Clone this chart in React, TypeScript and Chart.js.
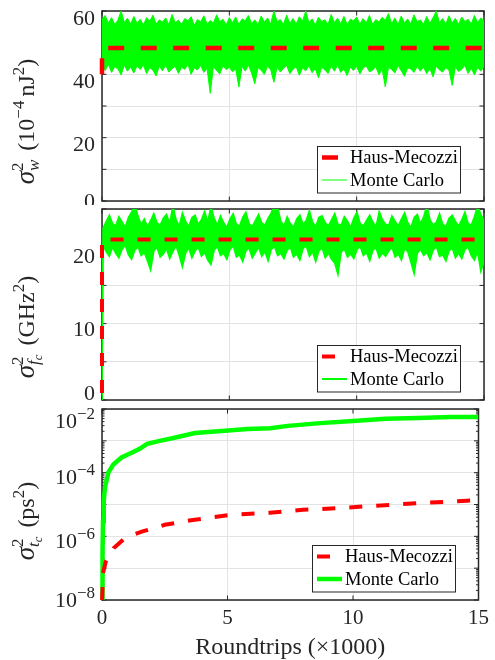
import React, { useEffect, useRef } from 'react';
import { Chart, registerables } from 'chart.js';

Chart.register(...registerables);

const FONT = "'Liberation Serif', 'Times New Roman', serif";
Chart.defaults.font.family = FONT;

// ---------------- data ----------------
const X_MIN = 0;
const X_MAX = 15;
const X_STEP = 5;
const X_TITLE = 'Roundtrips (×1000)';
const LABEL_HM = 'Haus-Mecozzi';
const LABEL_MC = 'Monte Carlo';

// uniform sampling instants (roundtrips ×1000) for the densely sampled Monte Carlo traces
const sampleTimes = (n: number, from: number, to: number) =>
  Array.from({ length: n }, (_, i) => from + ((to - from) * i) / (n - 1));

// Panel 1: energy variance (10^-4 nJ^2)
const P1_Y_MIN = 0;
const P1_Y_MAX = 60;
const P1_Y_GRID_STEP = 10;
const P1_Y_TICKS = [0, 20, 40, 60];
const P1_HM_T = [0, 0, 15];
const P1_HM_V = [40, 48.3, 48.3];
const P1_MC_T = sampleTimes(121, 0, 15);
const P1_MC_UPPER = [
  57.5, 58.6, 56.2, 57.9, 55.8, 57.1, 60.0, 56.4, 57.7, 55.9,
  58.3, 56.1, 57.4, 55.6, 57.9, 56.8, 58.7, 55.9, 57.2, 56.5,
  57.8, 55.7, 58.9, 56.3, 57.1, 55.8, 57.6, 56.9, 58.2, 55.5,
  57.3, 56.6, 58.5, 55.9, 57.0, 56.2, 58.8, 56.7, 57.4, 55.6,
  57.9, 56.3, 58.1, 55.8, 57.5, 56.9, 58.6, 56.0, 57.2, 55.7,
  58.4, 56.5, 57.8, 55.9, 60.0, 56.6, 57.3, 55.8, 58.7, 56.1,
  57.6, 55.9, 58.2, 56.8, 60.0, 56.3, 57.5, 55.6, 58.0, 56.7,
  57.2, 55.8, 58.9, 56.4, 57.7, 56.0, 58.3, 55.7, 57.4, 56.9,
  58.1, 55.9, 57.6, 56.2, 58.6, 55.8, 57.3, 56.5, 58.0, 57.1,
  59.2, 56.0, 57.8, 55.7, 58.4, 56.3, 57.5, 55.9, 58.8, 56.6,
  57.2, 55.8, 58.3, 56.1, 57.9, 60.0, 56.4, 57.6, 55.9, 58.5,
  56.2, 57.7, 55.8, 58.1, 56.7, 57.4, 55.9, 58.6, 56.3, 57.8, 57.0,
];
const P1_MC_LOWER = [
  42.8, 41.2, 43.1, 40.6, 42.4, 41.7, 39.8, 42.9, 41.0, 42.3,
  40.4, 42.7, 41.5, 43.0, 40.2, 42.1, 41.3, 39.5, 42.6, 41.1,
  42.9, 40.7, 41.8, 42.5, 40.3, 42.2, 41.6, 43.1, 40.0, 42.0,
  41.4, 42.8, 40.6, 41.9, 34.0, 42.4, 41.2, 40.1, 42.7, 41.5,
  42.2, 40.8, 41.7, 36.0, 42.5, 41.0, 42.9, 40.4, 37.0, 42.1,
  41.3, 40.0, 42.6, 41.4, 37.5, 42.3, 40.7, 41.9, 42.8, 40.2,
  41.6, 42.4, 39.7, 42.0, 41.1, 42.7, 40.5, 41.8, 38.9, 42.2,
  41.4, 40.3, 42.6, 41.0, 42.9, 40.6, 41.7, 39.6, 42.3, 41.2,
  42.5, 40.1, 41.9, 42.7, 40.8, 41.3, 42.4, 39.9, 41.6, 36.0,
  42.2, 41.5, 40.4, 42.8, 41.1, 39.4, 42.0, 41.7, 40.6, 42.5,
  41.0, 42.3, 40.2, 41.8, 39.2, 42.6, 41.4, 40.7, 42.1, 41.3,
  36.5, 42.4, 40.9, 41.6, 42.8, 40.3, 41.9, 39.8, 42.2, 41.0, 42.5,
];

// Panel 2: centre-frequency variance (GHz^2)
const P2_Y_MIN = 0;
const P2_Y_MAX = 25;
const P2_Y_GRID_STEP = 5;
const P2_Y_TICKS = [0, 10, 20];
const P2_HM_T = [0, 0, 15];
const P2_HM_V = [0, 21, 21];
const P2_MC_T = [0, ...sampleTimes(121, 0.04, 15)];
const P2_MC_UPPER = [
  0,
  22.5, 23.4, 24.2, 23.1, 22.8, 24.0, 23.3, 22.6, 23.9, 24.6,
  25.6, 24.1, 23.0, 23.7, 22.7, 23.5, 24.4, 23.2, 22.9, 23.8,
  24.3, 23.1, 25.5, 23.6, 22.8, 24.5, 23.4, 22.7, 23.9, 24.2,
  23.0, 23.6, 24.7, 23.3, 25.4, 23.8, 22.9, 24.1, 23.2, 22.6,
  23.7, 24.4, 23.0, 22.8, 23.9, 24.6, 23.1, 22.7, 23.5, 24.3,
  23.2, 22.9, 23.8, 24.5, 25.6, 25.3, 23.4, 22.8, 24.0, 23.1,
  22.6, 23.7, 24.2, 23.0, 23.5, 24.8, 23.3, 22.7, 23.9, 24.1,
  23.2, 22.8, 23.6, 24.4, 23.0, 22.9, 24.0, 23.4, 22.6, 23.8,
  24.6, 23.1, 22.8, 23.5, 24.2, 23.3, 22.7, 24.7, 23.6, 23.0,
  22.9, 24.1, 23.4, 22.8, 23.7, 24.5, 23.2, 22.6, 23.9, 24.3,
  23.1, 24.0, 25.5, 23.6, 22.9, 23.3, 24.4, 23.0, 22.7, 23.8,
  24.2, 23.4, 22.8, 23.6, 24.6, 23.1, 22.9, 24.0, 25.5, 24.3, 23.5,
];
const P2_MC_LOWER = [
  0,
  20.2, 19.4, 18.8, 20.0, 19.2, 18.6, 19.7, 20.3, 19.0, 18.4,
  19.6, 20.1, 18.9, 19.3, 18.2, 17.0, 19.5, 20.0, 18.7, 19.1,
  19.8, 18.5, 19.4, 20.2, 18.9, 17.4, 19.2, 19.9, 18.6, 19.5,
  20.0, 18.8, 19.3, 18.3, 17.7, 19.6, 20.1, 18.9, 19.2, 18.4,
  19.7, 20.2, 18.7, 19.0, 18.1, 19.5, 19.9, 18.6, 19.3, 20.0,
  18.8, 19.4, 18.2, 19.7, 20.1, 18.9, 19.2, 18.5, 19.6, 20.0,
  18.7, 19.1, 18.3, 19.8, 20.2, 18.8, 19.4, 18.1, 19.5, 19.9,
  18.6, 19.2, 18.4, 17.9, 16.4, 19.3, 19.8, 18.7, 19.1, 18.5,
  19.7, 20.1, 18.9, 19.3, 18.2, 19.6, 19.9, 18.6, 19.2, 18.8,
  19.5, 20.0, 18.7, 19.1, 18.3, 19.8, 19.4, 18.0, 16.5, 19.2,
  19.7, 18.9, 19.3, 18.4, 19.6, 20.1, 18.8, 19.0, 18.2, 19.5,
  19.9, 18.6, 19.2, 18.5, 19.7, 20.0, 18.9, 18.3, 19.4, 16.8, 18.1,
];

// Panel 3: timing variance (ps^2), log axis
const P3_Y_MIN = 1e-8;
const P3_Y_MAX = 1e-2;
const P3_Y_GRID_EXP = [-8, -7, -6, -5, -4, -3, -2];
const P3_Y_LABEL_EXP = [-8, -6, -4, -2];
const P3_HM_T = [0, 0.01, 0.04, 0.15, 0.47, 0.93, 1.58, 2.5, 3.55, 5.12, 6.69, 8.0, 9.3, 11.27, 12.58, 14.54, 15];
const P3_HM_V = [1e-8, 1.3e-8, 7e-8, 1.6e-7, 4.3e-7, 9e-7, 1.4e-6, 2.3e-6, 3.2e-6, 4.7e-6, 5.5e-6, 6.8e-6, 7.6e-6, 9.5e-6, 1.1e-5, 1.32e-5, 1.36e-5];
const P3_MC_T = [0, 0.02, 0.04, 0.07, 0.12, 0.25, 0.45, 0.78, 1.2, 1.5, 1.8, 2.3, 2.8, 3.7, 4.5, 5.8, 6.7, 7.4, 8.7, 10.0, 11.3, 12.6, 13.9, 15];
const P3_MC_V = [1e-8, 3e-7, 3e-6, 1.3e-5, 3.5e-5, 1e-4, 1.8e-4, 3e-4, 4.3e-4, 5.6e-4, 8e-4, 1e-3, 1.2e-3, 1.75e-3, 1.95e-3, 2.35e-3, 2.5e-3, 2.95e-3, 3.6e-3, 4.2e-3, 4.9e-3, 5.25e-3, 5.6e-3, 5.65e-3];

// ---------------- style ----------------
const RED = '#ff0000';
const GREEN = '#00ff00';
const INK = '#262626';
const GRID = '#e3e3e3';
const W = 495;
const AXIS_LEFT = 102;
const PAD_RIGHT = W - 484;
const YTICK_SIZE = 22;

type Run = { t: string; size: number; italic?: boolean; rise?: number };
type Seg = Run | { gap: number } | { sup: Run[]; sub: Run[] };

const setFont = (ctx: CanvasRenderingContext2D, r: Run) => {
  ctx.font = `${r.italic ? 'italic ' : ''}${r.size}px ${FONT}`;
};
const runsWidth = (ctx: CanvasRenderingContext2D, runs: Run[]) =>
  runs.reduce((w, r) => {
    setFont(ctx, r);
    return w + ctx.measureText(r.t).width;
  }, 0);
const segWidth = (ctx: CanvasRenderingContext2D, s: Seg): number => {
  if ('gap' in s) return s.gap;
  if ('sup' in s) return Math.max(runsWidth(ctx, s.sup), runsWidth(ctx, s.sub));
  return runsWidth(ctx, [s]);
};
const drawRuns = (ctx: CanvasRenderingContext2D, runs: Run[], x: number, y: number) => {
  for (const r of runs) {
    setFont(ctx, r);
    ctx.fillText(r.t, x, y - (r.rise || 0));
    x += ctx.measureText(r.t).width;
  }
  return x;
};
const drawSegs = (ctx: CanvasRenderingContext2D, segs: Seg[], x: number, y: number) => {
  for (const s of segs) {
    if ('gap' in s) x += s.gap;
    else if ('sup' in s) {
      drawRuns(ctx, s.sup, x, y);
      drawRuns(ctx, s.sub, x, y);
      x += segWidth(ctx, s);
    } else x = drawRuns(ctx, [s], x, y);
  }
  return x;
};

// frame + inward tick marks (MATLAB box style)
const framePlugin = {
  id: 'frame',
  beforeDatasetsDraw(chart: any, _a: any, o: any) {
    const { ctx, chartArea: a, scales } = chart;
    const { x, y } = scales;
    ctx.save();
    ctx.strokeStyle = INK;
    ctx.lineWidth = 1;
    ctx.beginPath();
    for (const t of y.ticks) {
      const py = y.getPixelForValue(t.value);
      ctx.moveTo(a.left, py); ctx.lineTo(a.left + 4.5, py);
      ctx.moveTo(a.right, py); ctx.lineTo(a.right - 4.5, py);
    }
    for (const v of o.minorY || []) {
      const py = y.getPixelForValue(v);
      ctx.moveTo(a.left, py); ctx.lineTo(a.left + 2.5, py);
      ctx.moveTo(a.right, py); ctx.lineTo(a.right - 2.5, py);
    }
    for (const t of x.ticks) {
      const px = x.getPixelForValue(t.value);
      ctx.moveTo(px, a.bottom); ctx.lineTo(px, a.bottom - 4.5);
      ctx.moveTo(px, a.top); ctx.lineTo(px, a.top + 4.5);
    }
    ctx.stroke();
    ctx.lineWidth = 1.5;
    ctx.strokeRect(a.left, a.top, a.right - a.left, a.bottom - a.top);
    ctx.restore();
  },
};

// y tick labels (with optional exponent) and rich y title
const yTextPlugin = {
  id: 'yText',
  afterDraw(chart: any, _a: any, o: any) {
    const { ctx, chartArea: a, scales } = chart;
    const y = scales.y;
    ctx.save();
    ctx.fillStyle = INK;
    ctx.textAlign = 'left';
    ctx.textBaseline = 'alphabetic';
    const xr = a.left - 7;
    const size = YTICK_SIZE;
    o.labels.forEach((it: any, i: number) => {
      const cy = y.getPixelForValue(it.value) + (o.dy[i] || 0);
      const base = cy + 0.34 * size;
      let x = xr;
      if (it.exp) {
        ctx.font = `17px ${FONT}`;
        const ew = ctx.measureText(it.exp).width;
        x -= ew;
        ctx.fillText(it.exp, x, base - 9);
      }
      ctx.font = `${size}px ${FONT}`;
      const bw = ctx.measureText(it.text).width;
      ctx.fillText(it.text, x - bw, base);
    });
    // rotated rich title
    const t = o.title;
    const total = t.segs.reduce((w: number, s: Seg) => w + segWidth(ctx, s), 0);
    ctx.translate(t.x, t.y);
    ctx.rotate(-Math.PI / 2);
    drawSegs(ctx, t.segs, -total / 2, 0);
    ctx.restore();
  },
};

// boxed legend in lower-right corner, built from datasets
const legendPlugin = {
  id: 'boxLegend',
  afterDraw(chart: any, _a: any, o: any) {
    const { ctx, chartArea: a } = chart;
    const w = 143, h = 46.5;
    const x0 = Math.round(a.right - 24 - w) + 0.5;
    const y0 = Math.round(a.bottom - 8.5 - h) + 0.5;
    ctx.save();
    ctx.fillStyle = '#ffffff';
    ctx.fillRect(x0, y0, w, h);
    ctx.strokeStyle = INK;
    ctx.lineWidth = 1;
    ctx.strokeRect(x0, y0, w, h);
    o.datasets.forEach((di: number, i: number) => {
      const ds = chart.data.datasets[di];
      const yy = y0 + 11 + i * 22.5;
      ctx.beginPath();
      ctx.setLineDash(ds.borderDash || []);
      ctx.lineWidth = o.widths[i];
      ctx.strokeStyle = ds.borderColor;
      ctx.moveTo(x0 + 4.5, yy);
      ctx.lineTo(x0 + 29.5, yy);
      ctx.stroke();
      ctx.setLineDash([]);
      ctx.fillStyle = '#000';
      ctx.font = `18.5px ${FONT}`;
      ctx.textBaseline = 'middle';
      ctx.fillText(ds.label, x0 + 32.5, yy + 1);
    });
    ctx.restore();
  },
};

const pts = (xs: number[], ys: number[]) => xs.map((x, i) => ({ x, y: ys[i] }));

const sigmaTitle = (sub: Run[], unit: Seg[]): Seg[] => [
  { t: 'σ', size: 27, italic: true },
  { sup: [{ t: '2', size: 17, rise: 11 }], sub },
  { gap: 9 },
  ...unit,
];

function buildConfig(p: any): any {
  return {
    type: 'line',
    data: { datasets: p.datasets },
    plugins: [framePlugin, yTextPlugin, legendPlugin],
    options: {
      responsive: false,
      animation: false,
      devicePixelRatio: 1,
      events: [],
      layout: { padding: { top: p.padTop, right: PAD_RIGHT, bottom: 0, left: 0 } },
      elements: { point: { radius: 0 }, line: { tension: 0 } },
      plugins: {
        legend: { display: false },
        tooltip: { enabled: false },
        frame: { minorY: p.minorY || [] },
        yText: { labels: p.yLabels, dy: p.yDy, title: p.title },
        boxLegend: { datasets: [0, 1], widths: p.legendWidths },
      },
      scales: {
        x: {
          type: 'linear',
          min: X_MIN,
          max: X_MAX,
          ticks: {
            display: p.showX,
            stepSize: X_STEP,
            autoSkip: false,
            maxRotation: 0,
            color: INK,
            font: { size: 21 },
            padding: 6,
          },
          grid: { color: GRID, drawTicks: false },
          border: { display: false },
          title: {
            display: p.showX,
            text: X_TITLE,
            color: INK,
            font: { size: 24, lineHeight: 1 },
            padding: { top: 0, bottom: 0 },
          },
          afterFit: (s: any) => { s.height = p.xHeight; },
        },
        y: p.y,
      },
    },
  };
}

const linearY = (min: number, max: number, step: number) => ({
  type: 'linear',
  min,
  max,
  ticks: { display: false, stepSize: step },
  grid: { color: GRID, drawTicks: false },
  border: { display: false },
  afterFit: (s: any) => { s.width = AXIS_LEFT; },
});

const minorLog: number[] = [];
P3_Y_GRID_EXP.slice(0, -1).forEach((e) => {
  for (let k = 2; k <= 9; k++) minorLog.push(k * Math.pow(10, e));
});

const config1 = () =>
  buildConfig({
    padTop: 11,
    xHeight: 4,
    showX: false,
    y: linearY(P1_Y_MIN, P1_Y_MAX, P1_Y_GRID_STEP),
    yLabels: P1_Y_TICKS.map((v) => ({ value: v, text: String(v) })),
    yDy: [0, 6, 6, 7],
    title: {
      x: 34,
      y: 121.5,
      segs: sigmaTitle([{ t: 'w', size: 17, italic: true, rise: -5 }], [
        { t: '(10', size: 24 },
        { t: '−4', size: 17, rise: 10 },
        { gap: 4 },
        { t: 'nJ', size: 24 },
        { t: '2', size: 17, rise: 10 },
        { t: ')', size: 24 },
      ]),
    },
    legendWidths: [4.5, 1],
    datasets: [
      {
        label: LABEL_HM, data: pts(P1_HM_T, P1_HM_V), borderColor: RED, borderWidth: 4.5,
        borderDash: [16, 16.5], fill: false, clip: { left: 4, top: 0, right: 0, bottom: 0 },
      },
      {
        label: LABEL_MC, data: pts(P1_MC_T, P1_MC_UPPER), borderColor: GREEN, backgroundColor: GREEN,
        borderWidth: 1, fill: '+1', clip: 0,
      },
      {
        label: LABEL_MC, data: pts(P1_MC_T, P1_MC_LOWER), borderColor: GREEN, borderWidth: 1, fill: false, clip: 0,
      },
    ],
  });

const config2 = () =>
  buildConfig({
    padTop: 4,
    xHeight: 4,
    showX: false,
    y: linearY(P2_Y_MIN, P2_Y_MAX, P2_Y_GRID_STEP),
    yLabels: P2_Y_TICKS.map((v) => ({ value: v, text: String(v) })),
    yDy: [-7, 5, 8],
    title: {
      x: 34,
      y: 122,
      segs: sigmaTitle(
        [
          { t: 'f', size: 17, italic: true, rise: -5 },
          { t: 'c', size: 12.5, italic: true, rise: -8 },
        ],
        [
          { t: '(GHz', size: 24 },
          { t: '2', size: 17, rise: 10 },
          { t: ')', size: 24 },
        ],
      ),
    },
    legendWidths: [4, 2],
    datasets: [
      {
        label: LABEL_HM, data: pts(P2_HM_T, P2_HM_V), borderColor: RED, borderWidth: 4,
        borderDash: [13, 14], borderDashOffset: 20, fill: false, clip: { left: 4, top: 0, right: 0, bottom: 2 },
      },
      {
        label: LABEL_MC, data: pts(P2_MC_T, P2_MC_UPPER), borderColor: GREEN, backgroundColor: GREEN,
        borderWidth: 1.5, fill: '+1', clip: 0,
      },
      {
        label: LABEL_MC, data: pts(P2_MC_T, P2_MC_LOWER), borderColor: GREEN, borderWidth: 1.5, fill: false, clip: 0,
      },
    ],
  });

const config3 = () =>
  buildConfig({
    padTop: 5,
    xHeight: 60,
    showX: true,
    minorY: minorLog,
    y: {
      type: 'logarithmic',
      min: P3_Y_MIN,
      max: P3_Y_MAX,
      afterBuildTicks: (s: any) => {
        s.ticks = P3_Y_GRID_EXP.map((e) => ({ value: Math.pow(10, e) }));
      },
      ticks: { display: false },
      grid: { color: GRID, drawTicks: false },
      border: { display: false },
      afterFit: (s: any) => { s.width = AXIS_LEFT; },
    },
    yLabels: P3_Y_LABEL_EXP.map((e) => ({ value: Math.pow(10, e), text: '10', exp: '−' + String(-e) })),
    yDy: [0, 4, 4, 12],
    title: {
      x: 34,
      y: 117,
      segs: sigmaTitle(
        [
          { t: 't', size: 17, italic: true, rise: -5 },
          { t: 'c', size: 12.5, italic: true, rise: -8 },
        ],
        [
          { t: '(ps', size: 24 },
          { t: '2', size: 17, rise: 10 },
          { t: ')', size: 24 },
        ],
      ),
    },
    legendWidths: [4, 4.5],
    datasets: [
      {
        label: LABEL_HM, data: pts(P3_HM_T, P3_HM_V), borderColor: RED, borderWidth: 4,
        borderDash: [13, 14], fill: false, clip: { left: 4, top: 0, right: 0, bottom: 0 },
      },
      {
        label: LABEL_MC, data: pts(P3_MC_T, P3_MC_V), borderColor: GREEN, borderWidth: 4.5,
        fill: false, clip: { left: 4, top: 0, right: 0, bottom: 0 },
      },
    ],
  });

function Panel({ make, top, height }: { make: () => any; top: number; height: number }) {
  const ref = useRef<HTMLCanvasElement>(null);
  useEffect(() => {
    if (!ref.current) return;
    const chart = new Chart(ref.current, make());
    return () => chart.destroy();
  }, [make]);
  return (
    <canvas
      ref={ref}
      width={W}
      height={height}
      style={{ position: 'absolute', left: 0, top, width: W, height, display: 'block' }}
    />
  );
}

export default function App() {
  return (
    <div style={{ position: 'absolute', left: 0, top: 0, width: W, height: 660, background: '#fff' }}>
      <Panel make={config1} top={0} height={205} />
      <Panel make={config2} top={205} height={199} />
      <Panel make={config3} top={404} height={256} />
    </div>
  );
}
